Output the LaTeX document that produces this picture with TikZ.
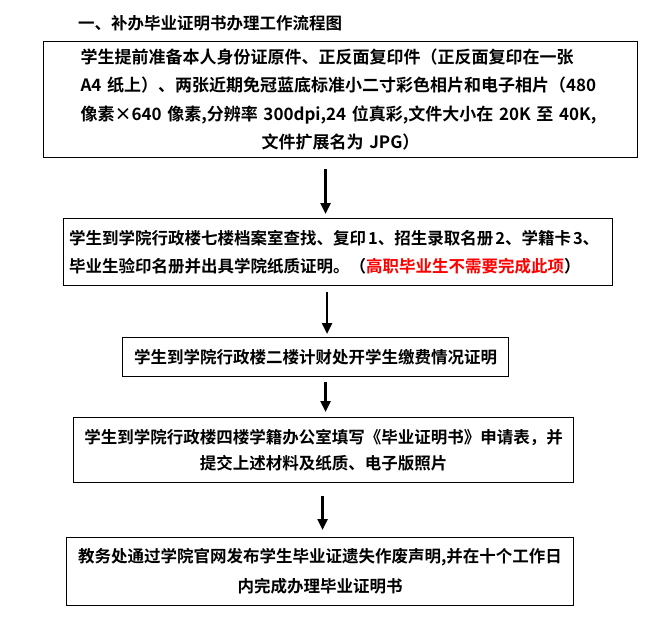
\documentclass[tikz,border=0pt]{standalone}
\usepackage{fontspec}
\setmainfont{Noto Sans CJK SC Bold}
\usetikzlibrary{arrows.meta}

\tikzset{
  stepbox/.style={draw, line width=1.1pt, anchor=north west, inner sep=0pt,
    font=\fontsize{16.5}{28}\selectfont},
  flow/.style={-{Triangle[length=11pt,width=10pt]}, line width=2.6pt},
}

\begin{document}
\begin{tikzpicture}[x=1pt, y=-1pt]
  \useasboundingbox (0,0) rectangle (672,624);

  % Title
  \node[anchor=west, inner sep=0pt, font=\fontsize{16.5}{20}\selectfont] (title) at (78,23) {一、补办毕业证明书办理工作流程图};

  % Steps
  \node[stepbox, minimum width=594pt, minimum height=116pt, text width=520pt, align=left,
    font=\fontsize{17}{28.5}\selectfont] (b1) at (43,41)
    {学生提前准备本人身份证原件、正反面复印件（正反面复印在一张\\
     A4 纸上）、两张近期免冠蓝底标准小二寸彩色相片和电子相片（480\\
     像素×640 像素,分辨率 300dpi,24 位真彩,文件大小在 20K 至 40K,\\
     \makebox[520pt]{文件扩展名为 JPG）}};
  \node[stepbox, minimum width=549pt, minimum height=67pt, text width=538pt, align=left] (b2) at (63,218)
    {学生到学院行政楼七楼档案室查找、复印\hspace{2pt}1、招生录取名册\hspace{2pt}2、学籍卡\hspace{2pt}3、\\
     毕业生验印名册并出具学院纸质证明。（{\color{red}高职毕业生不需要完成此项}）};
  \node[stepbox, minimum width=386pt, minimum height=39pt] (b3) at (122,337)
    {学生到学院行政楼二楼计财处开学生缴费情况证明};
  \node[stepbox, minimum width=500pt, minimum height=65pt, align=center,
    font=\fontsize{16.5}{26}\selectfont] (b4) at (73,417)
    {学生到学院行政楼四楼学籍办公室填写《毕业证明书》申请表，并\\
     提交上述材料及纸质、电子版照片};
  \node[stepbox, minimum width=507pt, minimum height=68pt, align=center,
    font=\fontsize{16.5}{30}\selectfont] (b5) at (66,537)
    {教务处通过学院官网发布学生毕业证遗失作废声明,并在十个工作日\\
     内完成办理毕业证明书};

  % Arrows
  \draw[flow] ([xshift=-15pt,yshift=-11pt]b1.south) -- ([xshift=-12.5pt,yshift=4pt]b2.north);
  \draw[flow] ([xshift=-11pt,yshift=-6pt]b2.south) -- ([xshift=11.5pt,yshift=3pt]b3.north);
  \draw[flow] ([xshift=10pt,yshift=-5pt]b3.south) -- ([xshift=2pt,yshift=5pt]b4.north);
  \draw[flow] ([xshift=-1pt,yshift=-13pt]b4.south) -- ([xshift=2.5pt,yshift=7pt]b5.north);
\end{tikzpicture}
\end{document}
